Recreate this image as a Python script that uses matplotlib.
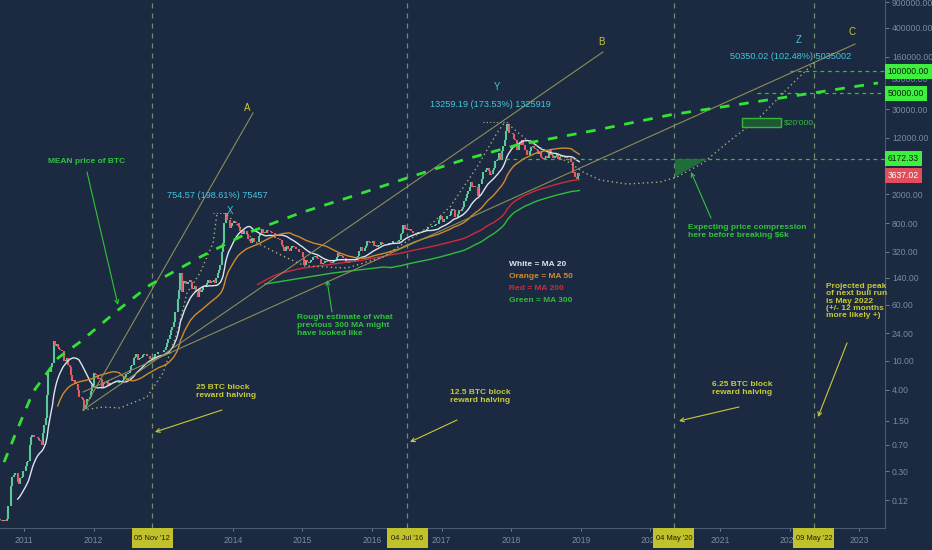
import numpy as np
import pandas as pd
import matplotlib
matplotlib.use("Agg")
import matplotlib.pyplot as plt
import matplotlib.transforms as mtransforms
from matplotlib.patches import Rectangle
from matplotlib import font_manager as fm
from matplotlib.ticker import NullLocator

# ---------------- data: weekly BTC closes (USD) ----------------
start_week = "2010-07-19"
close_2010 = [0.08, 0.07, 0.06, 0.07, 0.07, 0.066, 0.063, 0.062, 0.062, 0.063, 0.062, 0.065,
              0.10, 0.10, 0.19, 0.25, 0.27, 0.28, 0.28, 0.21, 0.20, 0.24, 0.25, 0.30]
close_2011 = [0.30, 0.35, 0.40, 0.42, 0.70, 0.90, 0.95, 0.90, 0.90, 0.89, 0.85, 0.82, 0.78,
              0.70, 1.00, 1.30, 1.65, 3.4, 7.2, 7.0, 8.3, 9.5, 18.9, 16.0, 16.9, 15.4,
              14.6, 14.0, 13.6, 13.9, 10.0, 10.4, 11.0, 8.9, 8.2, 6.4, 5.3, 5.5, 5.0,
              4.8, 4.0, 3.2, 3.2, 3.1, 2.9, 2.2, 2.5, 3.0, 3.0, 3.2, 3.9, 4.7]
close_2012 = [6.8, 6.7, 6.3, 5.6, 5.9, 5.7, 4.4, 4.8, 4.9, 4.9, 5.3, 4.7, 4.9,
              4.9, 4.9, 5.1, 5.0, 5.0, 4.95, 5.1, 5.1, 5.2, 5.5, 6.0, 6.6, 6.7,
              6.8, 7.5, 8.5, 8.9, 10.9, 11.5, 12.3, 10.2, 10.5, 11.0, 11.3, 12.2, 12.4,
              12.5, 11.8, 11.7, 10.6, 10.8, 10.9, 11.2, 12.3, 12.5, 13.4, 13.5, 13.4, 13.4, 13.5]
close_2013 = [14.0, 15.5, 17.5, 20.4, 22.6, 27.0, 29.9, 34.5, 46.9, 47.0, 71.5, 94.0,
              162, 90, 119, 128, 115, 117, 122, 131, 122, 100, 102, 107, 90,
              76, 98, 89, 96, 104, 104, 111, 120, 130, 118, 126, 125, 133, 120,
              140, 163, 182, 210, 320, 420, 800, 1120, 880, 880, 680, 735, 800]
close_2014 = [850, 830, 800, 810, 700, 620, 560, 560, 630, 630, 560, 480, 450,
              420, 500, 440, 440, 440, 445, 525, 580, 655, 590, 595, 590, 635,
              625, 620, 595, 590, 590, 495, 505, 480, 477, 475, 400, 375, 330,
              375, 390, 355, 325, 365, 390, 375, 375, 350, 350, 320, 315, 315]
close_2015 = [270, 210, 250, 230, 225, 235, 245, 275, 275, 285, 260, 255, 255,
              220, 220, 225, 240, 240, 235, 235, 230, 225, 235, 245, 250, 270,
              310, 280, 290, 285, 260, 265, 230, 225, 240, 230, 230, 235, 240,
              245, 270, 285, 325, 375, 330, 325, 360, 390, 450, 440, 420, 430]
close_2016 = [450, 385, 400, 375, 385, 400, 440, 430, 410, 415, 410, 415, 420,
              420, 430, 460, 460, 460, 455, 440, 470, 575, 585, 760, 660, 675,
              650, 665, 655, 625, 590, 585, 580, 575, 610, 610, 608, 605, 615,
              620, 640, 655, 700, 705, 705, 730, 735, 765, 775, 790, 890, 1000]
close_2017 = [910, 830, 920, 915, 1010, 1000, 1050, 1170, 1270, 1230, 970, 960, 1080,
              1200, 1180, 1250, 1350, 1640, 1800, 2050, 2200, 2500, 2950, 2500, 2600, 2500,
              2500, 1920, 2750, 2750, 3250, 4050, 4100, 4350, 4600, 4200, 3700, 3800, 4360,
              4600, 5700, 6000, 6150, 7400, 5950, 8000, 9300, 11250, 15000, 19000, 14000, 14000]
close_2018 = [14000, 13600, 11500, 11200, 8200, 8100, 10300, 9600, 11400, 9500, 8300, 8200, 6900,
              7000, 8000, 8900, 9400, 8700, 8500, 8200, 7300, 7600, 6500, 6450, 6100, 6400,
              6750, 6350, 7400, 8200, 7000, 6300, 6400, 6700, 7300, 6250, 6500, 6700, 6600,
              6600, 6300, 6500, 6400, 6400, 6350, 5600, 4000, 4100, 3500, 3250, 3950, 3637.02]

ma_periods = [20, 50, 200, 300]
ma_labels = ["White = MA 20", "Orange = MA 50", "Red = MA 200", "Green = MA 300"]

price_ticks = [0.12, 0.30, 0.70, 1.50, 4.00, 10.00, 24.00, 60.00, 140.00, 320.00, 800.00,
               2000.00, 12000.00, 30000.00, 80000.00, 160000.00, 400000.00, 900000.00]
year_ticks = [2011, 2012, 2014, 2015, 2016, 2017, 2018, 2019, 2020, 2021, 2022, 2023]

halving_dates = ["2012-11-05", "2016-07-04", "2020-05-04", "2022-05-09"]
halving_labels = ["05 Nov '12", "04 Jul '16", "04 May '20", "09 May '22"]

level_values = [100000.00, 50000.00, 6172.33]
level_starts = [2022.006, 2021.53, 2017.81]

# hand drawings on the chart (decimal year, price)
mean_t = [2010.713, 2010.871, 2011.129, 2011.489, 2011.805, 2012.351, 2012.810, 2013.529, 2014.247,
          2014.966, 2015.684, 2016.503, 2017.307, 2018.083, 2019.233, 2020.282, 2021.963, 2023.270]
mean_p = [0.40, 0.95, 3.72, 11.0, 18.3, 50.5, 112, 272, 604,
          1104, 1837, 3360, 5960, 9600, 15500, 25000, 44200, 69000]

fan_names = ["A", "B", "C"]
fan_t0 = [2011.848, 2011.848, 2011.848]
fan_p0 = [2.10, 2.10, 3.72]
fan_t1 = [2014.290, 2019.319, 2022.940]
fan_p1 = [26600, 185000, 238000]

cycle1_t = [2011.848, 2012.135, 2012.379, 2012.767, 2012.997, 2013.198, 2013.342, 2013.529, 2013.716, 2013.773]
cycle1_p = [2.10, 2.31, 2.24, 3.18, 6.82, 24.3, 86.8, 164, 425, 1104]
cycle2_t = [2013.917, 2014.348, 2014.721, 2015.037, 2015.641, 2016.158, 2016.790, 2017.121, 2017.509, 2017.796, 2017.911]
cycle2_p = [1037, 425, 281, 205, 192, 273, 686, 1337, 4771, 14070, 19960]
cycle3_t = [2017.954, 2018.227, 2018.557, 2018.845, 2019.032, 2019.276, 2019.664, 2020.138, 2020.382,
            2020.756, 2021.101, 2021.575, 2022.049, 2022.365]
cycle3_p = [18720, 11250, 7450, 5420, 4070, 3156, 2778, 2960, 3470, 5420, 10230, 23400, 69000, 134500]

cap_t = [[2013.716, 2013.96], [2017.60, 2017.95]]
cap_p = [[1104, 1104], [19960, 19960]]

ma300_guess_t = [2014.463, 2015.440, 2016.158]
ma300_guess_p = [115.5, 164, 198]

triangle_t = [2020.353, 2020.813, 2020.353]
triangle_p = [6172.33, 6172.33, 3470]
target_box_t = [2021.316, 2021.876]
target_box_p = [17030, 22670]

measure_labels = ["754.57 (198.61%) 75457", "13259.19 (173.53%) 1325919", "50350.02 (102.48%) 5035002"]

# ---------------- style ----------------
BG = "#1b2a40"
TICK = "#7b8aa0"
UPC = "#5cc79b"
DNC = "#e25a68"
YEL = "#c9c93a"
GRN = "#2fc43a"
CYAN = "#45c6da"
OLIVE = "#8d8d58"
DOT = "#aaaa7c"
VLINE = "#6f8c6f"
MA_COLORS = ["#dde4ef", "#d38a2c", "#cf2a3c", "#2fbd3c"]

avail = {f.name for f in fm.fontManager.ttflist}
def pick(*names):
    for n in names:
        if n in avail:
            return n
    return "DejaVu Sans"
NARROW = pick("Liberation Sans Narrow", "Liberation Sans", "Roboto")
SANS = pick("Liberation Sans", "Roboto", "DejaVu Sans")
is_narrow = NARROW == "Liberation Sans Narrow"
BFS = 6.6 if is_narrow else 6.0

plt.rcParams["font.family"] = [SANS, "DejaVu Sans"]

# ---------------- derived series ----------------
close = np.array(close_2010 + close_2011 + close_2012 + close_2013 + close_2014 +
                 close_2015 + close_2016 + close_2017 + close_2018, dtype=float)
dates = pd.date_range(start_week, periods=len(close), freq="7D")
def dec_year(idx):
    idx = pd.DatetimeIndex(idx)
    return np.asarray(idx.year + (idx.dayofyear - 1) / np.where(idx.is_leap_year, 366.0, 365.0), dtype=float)
t = dec_year(dates)
openp = np.concatenate([[close[0]], close[:-1]])
up = close >= openp
s = pd.Series(close)
mas = [s.rolling(p).mean().to_numpy() for p in ma_periods]

# ---------------- figure ----------------
fig = plt.figure(figsize=(9.32, 5.5), dpi=100)
fig.patch.set_facecolor(BG)
ax = fig.add_axes([0, 22 / 550, 885 / 932, 528 / 550])
ax.set_facecolor(BG)
ax.set_yscale("log")
X0, X1 = 2010.655, 2023.371
ax.set_xlim(X0, X1)
ax.set_ylim(0.0493, 966000)
px_per_year = 885 / (X1 - X0)

# candles
lo = np.minimum(openp, close)
hi = np.maximum(openp, close)
ax.vlines(t[up], lo[up], hi[up], colors=UPC, lw=1.5, zorder=3)
ax.vlines(t[~up], lo[~up], hi[~up], colors=DNC, lw=1.5, zorder=3)

# moving averages
for m, c in zip(mas, MA_COLORS):
    ax.plot(t, m, color=c, lw=1.0, zorder=4)
i0 = ma_periods[3] - 1
ax.plot(ma300_guess_t + [t[i0]], ma300_guess_p + [mas[3][i0]], color=MA_COLORS[3], lw=1.0, zorder=4)

# halving verticals with date boxes
blend_x = mtransforms.blended_transform_factory(ax.transData, ax.transAxes)
blend_y = mtransforms.blended_transform_factory(ax.transAxes, ax.transData)
box_w = 41 / px_per_year
box_h = 20 / 528
for d, lab in zip(halving_dates, halving_labels):
    xd = dec_year([pd.Timestamp(d)])[0]
    ax.axvline(xd, color=VLINE, lw=0.9, dashes=(4, 4), zorder=2)
    ax.add_patch(Rectangle((xd - box_w / 2, -box_h), box_w, box_h, transform=blend_x,
                           fc="#c1c12b", ec="none", clip_on=False, zorder=29))
    ax.text(xd, -box_h / 2, lab, transform=blend_x, ha="center", va="center", fontsize=5.4,
            family=NARROW, color="#1c1c10", zorder=30, clip_on=False)

# horizontal levels
for v, st in zip(level_values, level_starts):
    ax.plot([st, X1], [v, v], color="#30c030", lw=0.9, dashes=(3, 3), zorder=5)

# mean curve
ax.plot(mean_t, mean_p, color="#33e333", lw=2.0, dashes=(3.5, 3.5), zorder=6)

# fan lines
for n, a0, b0, a1, b1 in zip(fan_names, fan_t0, fan_p0, fan_t1, fan_p1):
    ax.plot([a0, a1], [b0, b1], color=OLIVE, lw=0.8, zorder=5)

# cycle dotted paths
for ct, cp in [(cycle1_t, cycle1_p), (cycle2_t, cycle2_p), (cycle3_t, cycle3_p)]:
    ax.plot(ct, cp, color=DOT, lw=1.0, ls=(0, (1, 2.2)), zorder=5)
for ct, cp in zip(cap_t, cap_p):
    ax.plot(ct, cp, color=DOT, lw=0.8, ls=(0, (1, 2)), zorder=5)

# compression triangle and $20'000 box
ax.fill(triangle_t, triangle_p, color="#1f7a3a", alpha=0.85, zorder=5, lw=0)
ax.fill([target_box_t[0], target_box_t[1], target_box_t[1], target_box_t[0]],
        [target_box_p[0], target_box_p[0], target_box_p[1], target_box_p[1]],
        fc="#1d5a32", ec="#2fb83a", lw=1.0, zorder=5)

# axes styling
for sp in ["top", "left"]:
    ax.spines[sp].set_visible(False)
for sp in ["bottom", "right"]:
    ax.spines[sp].set_color("#4a5a72")
    ax.spines[sp].set_linewidth(0.8)
ax.yaxis.tick_right()
ax.set_yticks(price_ticks)
ax.set_yticklabels([f"{v:.2f}" for v in price_ticks], family=NARROW)
ax.yaxis.set_minor_locator(NullLocator())
ax.set_xticks(year_ticks)
ax.set_xticklabels([str(y) for y in year_ticks], family=NARROW)
ax.tick_params(axis="y", colors=TICK, labelsize=6.2, length=3, width=0.6, pad=2, labelcolor=TICK)
ax.tick_params(axis="x", colors=TICK, labelsize=6.2, length=2.5, width=0.6, pad=3.5, labelcolor=TICK)

# right price labels
for v in level_values:
    ax.text(1.003, v, f"{v:.2f}", transform=blend_y, ha="left", va="center", fontsize=6.2,
            family=NARROW, color="#0c200c", zorder=30, clip_on=False,
            bbox=dict(boxstyle="square,pad=0.35", fc="#3ef03e", ec="none"))
ax.text(1.003, close[-1], f"{close[-1]:.2f}", transform=blend_y, ha="left", va="center",
        fontsize=6.2, family=NARROW, color="white", zorder=30, clip_on=False,
        bbox=dict(boxstyle="square,pad=0.35", fc="#e04e5c", ec="none"))

# ---------------- annotations (axes fraction) ----------------
A = ax.transAxes
def txt(x, y, s, color, size=BFS, bold=True, fam=None, ha="left", va="top", ls=1.15):
    ax.text(x, y, s, transform=A, color=color, fontsize=size, ha=ha, va=va,
            fontweight="bold" if bold else "normal", family=fam or NARROW,
            linespacing=ls, zorder=20)
def arrow(x0, y0, x1, y1, color):
    ax.annotate("", xy=(x1, y1), xytext=(x0, y0), xycoords="axes fraction", textcoords="axes fraction",
                arrowprops=dict(arrowstyle="->", color=color, lw=0.8, mutation_scale=7,
                                shrinkA=0, shrinkB=0), zorder=20)

# fan labels
for n, (x, y) in zip(fan_names, [(0.2791, 0.7955), (0.6791, 0.9205), (0.9627, 0.9394)]):
    txt(x, y, n, YEL, size=7, bold=False, fam=SANS, ha="center", va="center")
# measurement labels
for n, (x, y) in zip(["X", "Y", "Z"], [(0.2599, 0.6004), (0.5616, 0.8352), (0.9028, 0.9242)]):
    txt(x, y, n, CYAN, size=7, bold=False, fam=SANS, ha="center", va="center")
for s_, (x, y) in zip(measure_labels, [(0.2452, 0.6288), (0.5537, 0.8030), (0.8938, 0.8939)]):
    txt(x, y, s_, CYAN, size=6.6, bold=False, fam=SANS, ha="center", va="center")

txt(0.0542, 0.6932, "MEAN price of BTC", GRN, va="center")
arrow(0.0983, 0.6742, 0.1333, 0.4223, GRN)

txt(0.2215, 0.2727, "25 BTC block\nreward halving", YEL)
arrow(0.2508, 0.2235, 0.1751, 0.1818, YEL)
txt(0.5085, 0.2633, "12.5 BTC block\nreward halving", YEL)
arrow(0.5164, 0.2045, 0.4633, 0.1629, YEL)
txt(0.8045, 0.2784, "6.25 BTC block\nreward halving", YEL)
arrow(0.8350, 0.2292, 0.7672, 0.2027, YEL)
txt(0.9333, 0.4640, "Projected peak\nof next bull run\nis May 2022\n(+/- 12 months\nmore likely +)", YEL, ls=1.05)
arrow(0.9571, 0.3504, 0.9243, 0.2102, YEL)

txt(0.7774, 0.5758, "Expecting price compression\nhere before breaking $6k", GRN)
arrow(0.8034, 0.5871, 0.7808, 0.6742, GRN)
txt(0.3356, 0.4053, "Rough estimate of what\nprevious 300 MA might\nhave looked like", GRN)
arrow(0.3751, 0.4091, 0.3695, 0.4697, GRN)

for lab, c, y in zip(ma_labels, MA_COLORS, [0.5000, 0.4754, 0.4527, 0.4318]):
    txt(0.5751, y, lab, c, va="center")

txt(0.8859, 0.7670, "$20'000", GRN, size=BFS, bold=False, va="center")

fig.savefig("out.png", dpi=100, facecolor=BG)
